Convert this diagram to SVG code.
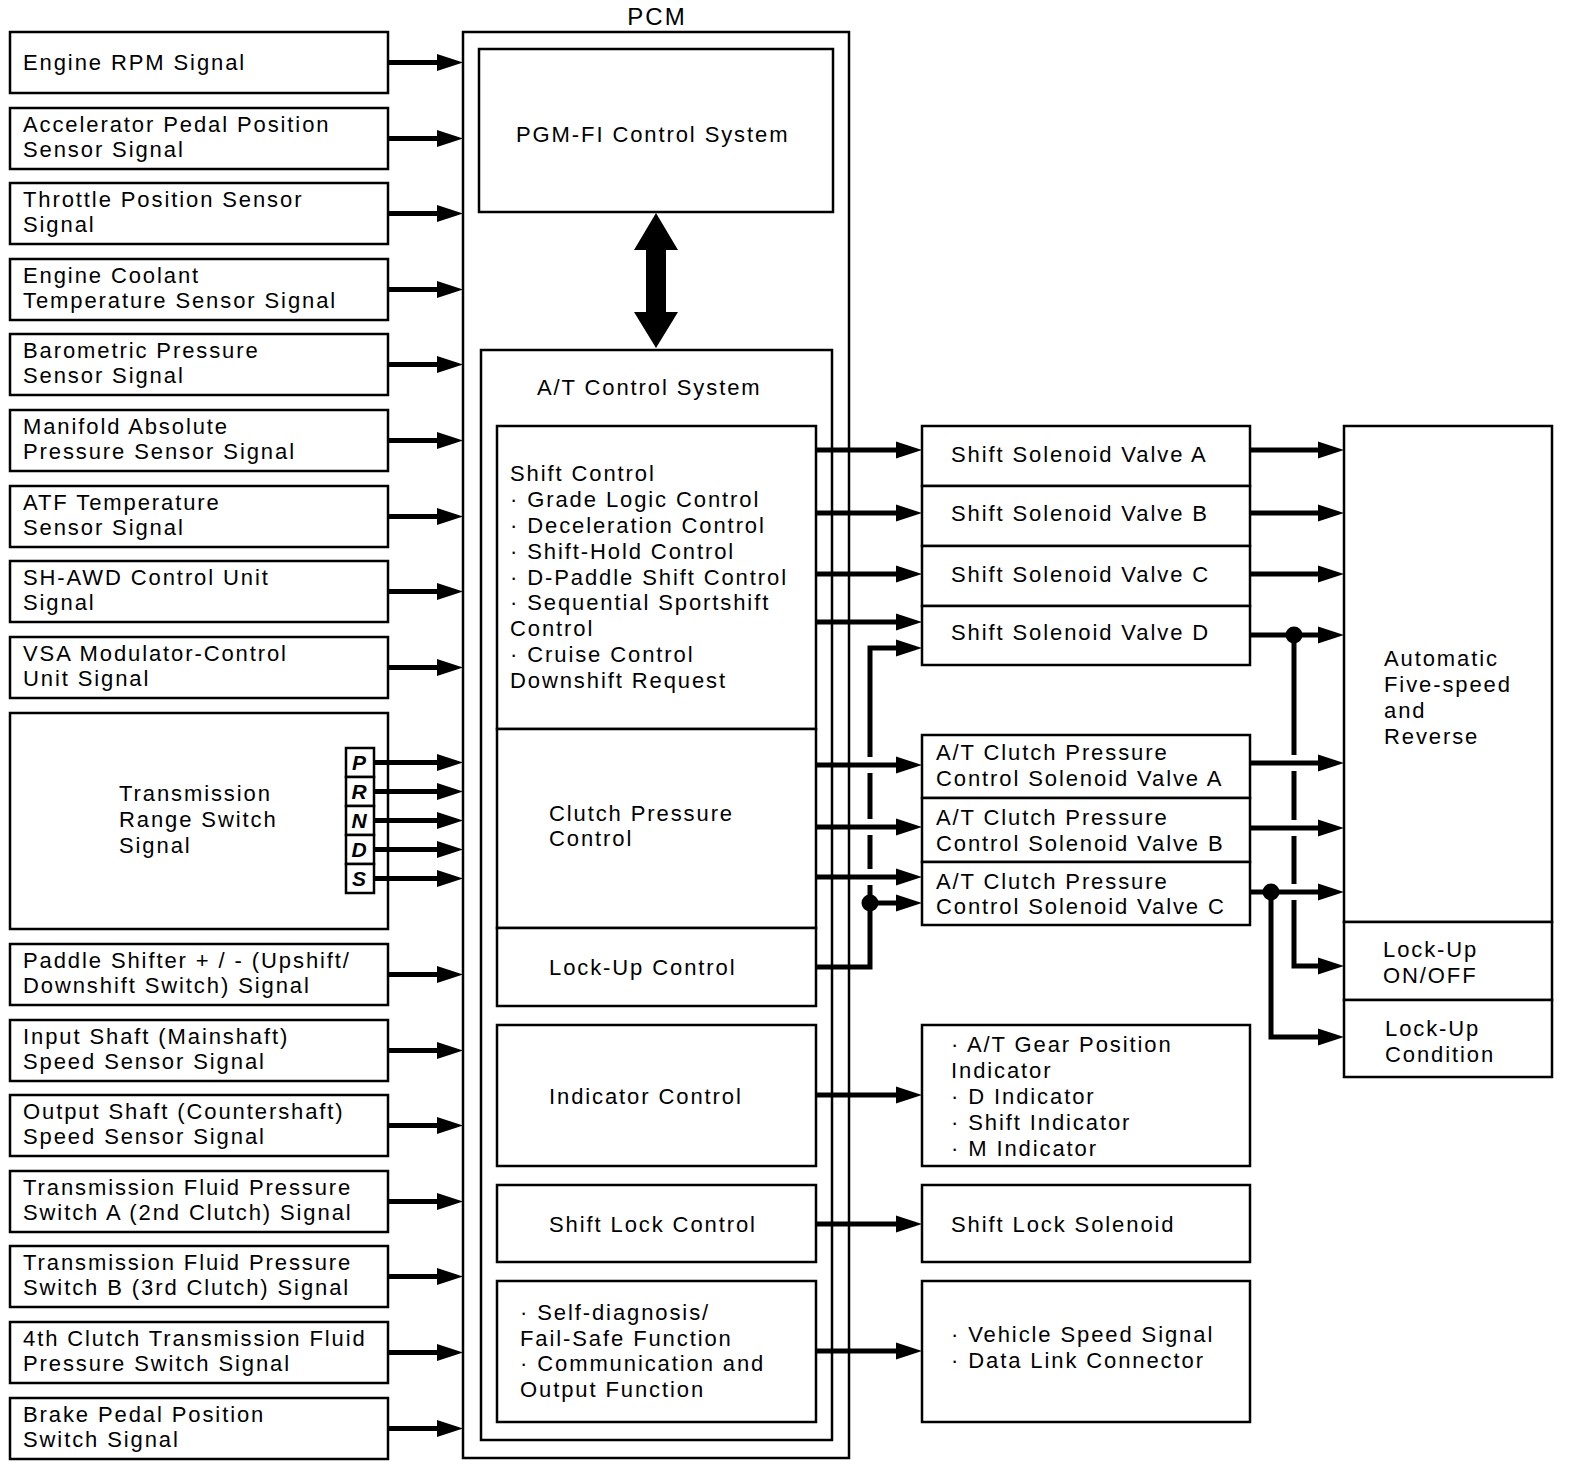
<svg xmlns="http://www.w3.org/2000/svg" width="1584" height="1466" viewBox="0 0 1584 1466">
<style>
.box{fill:#fff;stroke:#000;stroke-width:2.5}
text{font-family:"Liberation Sans",Arial,Helvetica,sans-serif;font-size:22px;letter-spacing:1.9px;fill:#000}
.big{font-size:24px;letter-spacing:2px}
.sel{font-size:21px;font-weight:bold;font-style:italic;letter-spacing:0;text-anchor:middle}
.c{fill:none;stroke:#000;stroke-width:5;stroke-linejoin:miter;marker-end:url(#ah)}
.w{fill:none;stroke:#000;stroke-width:5;stroke-linejoin:miter}
</style>
<defs>
<marker id="ah" markerUnits="userSpaceOnUse" markerWidth="28" markerHeight="18" refX="1" refY="8.5" orient="auto" overflow="visible">
<path d="M0,0 L26,8.5 L0,17 Z" fill="#000"/>
</marker>
</defs>
<rect width="1584" height="1466" fill="#fff"/>

<!-- Input nodes -->
<g id="in-engine-rpm"><rect class="box" x="10" y="32" width="378" height="61"/><text x="23" y="70">Engine RPM Signal</text></g>
<g id="in-accel"><rect class="box" x="10" y="108" width="378" height="61"/><text x="23" y="132">Accelerator Pedal Position</text><text x="23" y="157">Sensor Signal</text></g>
<g id="in-throttle"><rect class="box" x="10" y="183" width="378" height="61"/><text x="23" y="207">Throttle Position Sensor</text><text x="23" y="232">Signal</text></g>
<g id="in-coolant"><rect class="box" x="10" y="259" width="378" height="61"/><text x="23" y="283">Engine Coolant</text><text x="23" y="308">Temperature Sensor Signal</text></g>
<g id="in-baro"><rect class="box" x="10" y="334" width="378" height="61"/><text x="23" y="358">Barometric Pressure</text><text x="23" y="383">Sensor Signal</text></g>
<g id="in-map"><rect class="box" x="10" y="410" width="378" height="61"/><text x="23" y="434">Manifold Absolute</text><text x="23" y="459">Pressure Sensor Signal</text></g>
<g id="in-atf"><rect class="box" x="10" y="486" width="378" height="61"/><text x="23" y="510">ATF Temperature</text><text x="23" y="535">Sensor Signal</text></g>
<g id="in-shawd"><rect class="box" x="10" y="561" width="378" height="61"/><text x="23" y="585">SH-AWD Control Unit</text><text x="23" y="610">Signal</text></g>
<g id="in-vsa"><rect class="box" x="10" y="637" width="378" height="61"/><text x="23" y="661">VSA Modulator-Control</text><text x="23" y="686">Unit Signal</text></g>
<g id="in-range">
<rect class="box" x="10" y="713" width="378" height="216"/>
<text x="119" y="801">Transmission</text><text x="119" y="827">Range Switch</text><text x="119" y="853">Signal</text>
<rect class="box" x="346" y="748" width="28" height="29"/><text class="sel" x="359" y="770">P</text>
<rect class="box" x="346" y="777" width="28" height="29"/><text class="sel" x="359" y="799">R</text>
<rect class="box" x="346" y="806" width="28" height="29"/><text class="sel" x="359" y="828">N</text>
<rect class="box" x="346" y="835" width="28" height="29"/><text class="sel" x="359" y="857">D</text>
<rect class="box" x="346" y="864" width="28" height="29"/><text class="sel" x="359" y="886">S</text>
</g>
<g id="in-paddle"><rect class="box" x="10" y="944" width="378" height="61"/><text x="23" y="968">Paddle Shifter + / - (Upshift/</text><text x="23" y="993">Downshift Switch) Signal</text></g>
<g id="in-input-shaft"><rect class="box" x="10" y="1020" width="378" height="61"/><text x="23" y="1044">Input Shaft (Mainshaft)</text><text x="23" y="1069">Speed Sensor Signal</text></g>
<g id="in-output-shaft"><rect class="box" x="10" y="1095" width="378" height="61"/><text x="23" y="1119">Output Shaft (Countershaft)</text><text x="23" y="1144">Speed Sensor Signal</text></g>
<g id="in-tfp-a"><rect class="box" x="10" y="1171" width="378" height="61"/><text x="23" y="1195">Transmission Fluid Pressure</text><text x="23" y="1220">Switch A (2nd Clutch) Signal</text></g>
<g id="in-tfp-b"><rect class="box" x="10" y="1246" width="378" height="61"/><text x="23" y="1270">Transmission Fluid Pressure</text><text x="23" y="1295">Switch B (3rd Clutch) Signal</text></g>
<g id="in-4th"><rect class="box" x="10" y="1322" width="378" height="61"/><text x="23" y="1346">4th Clutch Transmission Fluid</text><text x="23" y="1371">Pressure Switch Signal</text></g>
<g id="in-brake"><rect class="box" x="10" y="1398" width="378" height="61"/><text x="23" y="1422">Brake Pedal Position</text><text x="23" y="1447">Switch Signal</text></g>

<!-- PCM -->
<g id="pcm"><rect class="box" x="463" y="32" width="386" height="1426"/><text class="big" x="657" y="25" text-anchor="middle">PCM</text></g>
<g id="pgm-fi"><rect class="box" x="479" y="49" width="354" height="163"/><text x="516" y="142">PGM-FI Control System</text></g>
<g id="at-control"><rect class="box" x="481" y="350" width="351" height="1090"/><text x="537" y="395">A/T Control System</text></g>
<g id="shift-control"><rect class="box" x="497" y="426" width="319" height="303"/>
<text x="510" y="481">Shift Control</text>
<text x="510" y="507">· Grade Logic Control</text>
<text x="510" y="533">· Deceleration Control</text>
<text x="510" y="559">· Shift-Hold Control</text>
<text x="510" y="585">· D-Paddle Shift Control</text>
<text x="510" y="610">· Sequential Sportshift</text>
<text x="510" y="636">Control</text>
<text x="510" y="662">· Cruise Control</text>
<text x="510" y="688">Downshift Request</text>
</g>
<g id="clutch-control"><rect class="box" x="497" y="729" width="319" height="199"/><text x="549" y="821">Clutch Pressure</text><text x="549" y="846">Control</text></g>
<g id="lockup-control"><rect class="box" x="497" y="928" width="319" height="78"/><text x="549" y="975">Lock-Up Control</text></g>
<g id="indicator-control"><rect class="box" x="497" y="1025" width="319" height="141"/><text x="549" y="1104">Indicator Control</text></g>
<g id="shiftlock-control"><rect class="box" x="497" y="1185" width="319" height="77"/><text x="549" y="1232">Shift Lock Control</text></g>
<g id="selfdiag"><rect class="box" x="497" y="1281" width="319" height="141"/>
<text x="520" y="1320">· Self-diagnosis/</text>
<text x="520" y="1346">Fail-Safe Function</text>
<text x="520" y="1371">· Communication and</text>
<text x="520" y="1397">Output Function</text>
</g>
<polygon points="656,213 678,250 666,250 666,312 678,312 656,348 634,312 646,312 646,250 634,250" fill="#000"/>

<!-- Output nodes -->
<g id="ssv-a"><rect class="box" x="922" y="426" width="328" height="60"/><text x="951" y="462">Shift Solenoid Valve A</text></g>
<g id="ssv-b"><rect class="box" x="922" y="486" width="328" height="60"/><text x="951" y="521">Shift Solenoid Valve B</text></g>
<g id="ssv-c"><rect class="box" x="922" y="546" width="328" height="60"/><text x="951" y="582">Shift Solenoid Valve C</text></g>
<g id="ssv-d"><rect class="box" x="922" y="606" width="328" height="59"/><text x="951" y="640">Shift Solenoid Valve D</text></g>
<g id="atc-a"><rect class="box" x="922" y="735" width="328" height="63"/><text x="936" y="760">A/T Clutch Pressure</text><text x="936" y="786">Control Solenoid Valve A</text></g>
<g id="atc-b"><rect class="box" x="922" y="798" width="328" height="64"/><text x="936" y="825">A/T Clutch Pressure</text><text x="936" y="851">Control Solenoid Valve B</text></g>
<g id="atc-c"><rect class="box" x="922" y="862" width="328" height="63"/><text x="936" y="889">A/T Clutch Pressure</text><text x="936" y="914">Control Solenoid Valve C</text></g>
<g id="indicators"><rect class="box" x="922" y="1025" width="328" height="141"/>
<text x="951" y="1052">· A/T Gear Position</text>
<text x="951" y="1078">Indicator</text>
<text x="951" y="1104">· D Indicator</text>
<text x="951" y="1130">· Shift Indicator</text>
<text x="951" y="1156">· M Indicator</text>
</g>
<g id="shiftlock-solenoid"><rect class="box" x="922" y="1185" width="328" height="77"/><text x="951" y="1232">Shift Lock Solenoid</text></g>
<g id="vss-dlc"><rect class="box" x="922" y="1281" width="328" height="141"/><text x="951" y="1342">· Vehicle Speed Signal</text><text x="951" y="1368">· Data Link Connector</text></g>
<g id="transmission"><rect class="box" x="1344" y="426" width="208" height="496"/>
<text x="1384" y="666">Automatic</text><text x="1384" y="692">Five-speed</text><text x="1384" y="718">and</text><text x="1384" y="744">Reverse</text></g>
<g id="lockup-onoff"><rect class="box" x="1344" y="922" width="208" height="78"/><text x="1383" y="957">Lock-Up</text><text x="1383" y="983">ON/OFF</text></g>
<g id="lockup-condition"><rect class="box" x="1344" y="1000" width="208" height="77"/><text x="1385" y="1036">Lock-Up</text><text x="1385" y="1062">Condition</text></g>

<!-- Connectors -->
<g id="connectors">
<path class="c" d="M388,62.5 H438"/>
<path class="c" d="M388,138.5 H438"/>
<path class="c" d="M388,213.5 H438"/>
<path class="c" d="M388,289.5 H438"/>
<path class="c" d="M388,364.5 H438"/>
<path class="c" d="M388,440.5 H438"/>
<path class="c" d="M388,516.5 H438"/>
<path class="c" d="M388,591.5 H438"/>
<path class="c" d="M388,667.5 H438"/>
<path class="c" d="M374,762.5 H438"/>
<path class="c" d="M374,791.5 H438"/>
<path class="c" d="M374,820.5 H438"/>
<path class="c" d="M374,849.5 H438"/>
<path class="c" d="M374,878.5 H438"/>
<path class="c" d="M388,974.5 H438"/>
<path class="c" d="M388,1050.5 H438"/>
<path class="c" d="M388,1125.5 H438"/>
<path class="c" d="M388,1201.5 H438"/>
<path class="c" d="M388,1276.5 H438"/>
<path class="c" d="M388,1352.5 H438"/>
<path class="c" d="M388,1428.5 H438"/>

<path class="c" d="M816,450 H897"/>
<path class="c" d="M816,513 H897"/>
<path class="c" d="M816,574 H897"/>
<path class="c" d="M816,622 H897"/>
<path class="c" d="M816,765 H897"/>
<path class="c" d="M816,827 H897"/>
<path class="c" d="M816,877 H897"/>
<path class="w" d="M816,967 H870 V885"/>
<path class="w" d="M870,869 V835"/>
<path class="w" d="M870,819 V773"/>
<path class="c" d="M870,757 V648 H897"/>
<path class="c" d="M870,903 H897"/>
<circle cx="870" cy="903" r="8.5" fill="#000"/>

<path class="c" d="M816,1095 H897"/>
<path class="c" d="M816,1224 H897"/>
<path class="c" d="M816,1351 H897"/>

<path class="c" d="M1250,450 H1319"/>
<path class="c" d="M1250,513 H1319"/>
<path class="c" d="M1250,574 H1319"/>
<path class="c" d="M1250,635 H1319"/>
<path class="c" d="M1250,763 H1319"/>
<path class="c" d="M1250,828 H1319"/>
<path class="c" d="M1250,892 H1319"/>
<path class="w" d="M1294,635 V755"/>
<path class="w" d="M1294,771 V820"/>
<path class="w" d="M1294,836 V884"/>
<path class="c" d="M1294,900 V966 H1319"/>
<path class="c" d="M1271,892 V1037 H1319"/>
<circle cx="1294" cy="635" r="8.5" fill="#000"/>
<circle cx="1271" cy="892" r="8.5" fill="#000"/>
</g>
</svg>
